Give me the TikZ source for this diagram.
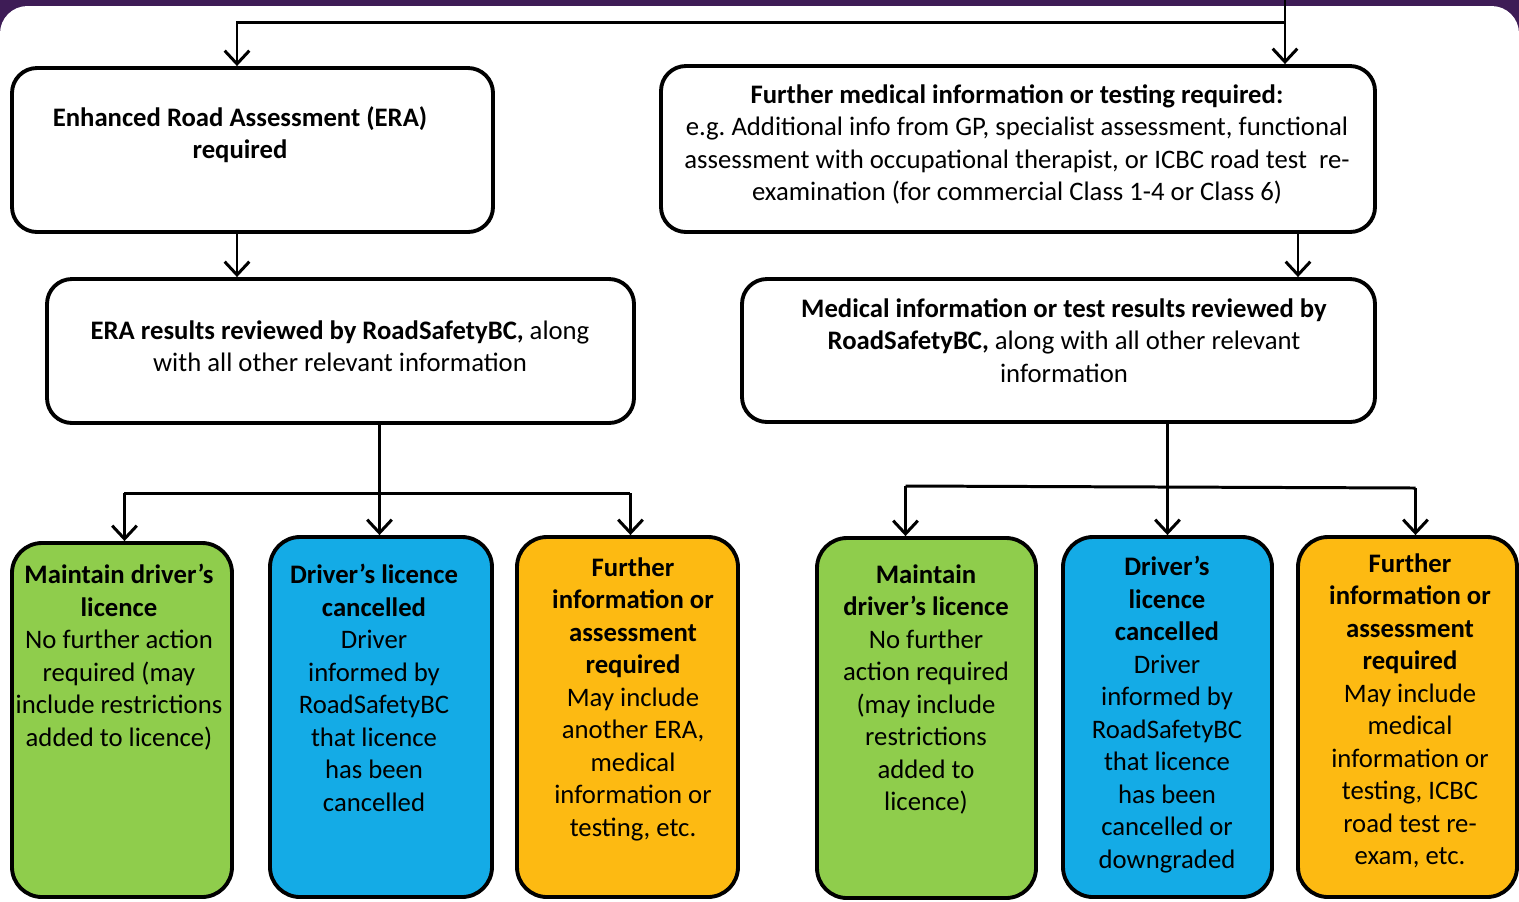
\documentclass[tikz,border=0pt]{standalone}
\usepackage{fontspec}
\setmainfont{Carlito}
\usepackage{tikz}
\usetikzlibrary{arrows.meta}
\definecolor{cardpurple}{HTML}{3E1C56}
\definecolor{keepgreen}{HTML}{8FCD4C}
\definecolor{cancelblue}{HTML}{14ABE6}
\definecolor{moreorange}{HTML}{FDBA12}
\begin{document}
\begin{tikzpicture}[scale=0.2]
              \tikzstyle{every node}+=[inner sep=0pt]
              \tikzstyle{box}=[draw=black, line width=2.2pt, rounded corners=0.5cm, rectangle]
              \tikzstyle{leaf}=[box, rounded corners=0.6cm, minimum height=7.2cm]
              \tikzstyle{txt}=[anchor=north, align=center, font=\fontsize{15.2}{18.5}\selectfont]
              \tikzstyle{arr}=[line width=1.7pt, -{Straight Barb[length=7.5pt,width=14pt]}]
              \clip (0,0) rectangle (151.9,-90.1);
              \fill [cardpurple] (0,0) rectangle (151.9,-90.1);
              \fill [white, rounded corners=0.55cm] (0,-0.6) rectangle (151.9,-96);
              % top row
              \node [box, minimum width=9.62cm, minimum height=3.28cm] (era) at (25.25,-15.0) {};
              \node [box, minimum width=14.28cm, minimum height=3.32cm] (further) at (101.8,-14.9) {};
              \node [txt] (eratxt) at (24.0,-10.6) {\textbf{Enhanced Road Assessment (ERA)}\\\textbf{required}};
              \node [txt] (furthertxt) at (101.7,-8.4) {\textbf{Further medical information or testing required:}\\e.g.\ Additional info from GP, specialist assessment, functional\\assessment with occupational therapist, or ICBC road test\ \ re-\\examination (for commercial Class 1-4 or Class 6)};
              % review row
              \node [box, minimum width=11.74cm, minimum height=2.88cm] (erares) at (34.05,-35.1) {};
              \node [box, minimum width=12.66cm, minimum height=2.86cm] (med) at (105.85,-35.05) {};
              \node [txt] (errestxt) at (34.0,-32.0) {\textbf{ERA results reviewed by RoadSafetyBC,} along\\with all other relevant information};
              \node [txt] (medtxt) at (106.4,-29.8) {\textbf{Medical information or test results reviewed by}\\\textbf{RoadSafetyBC,} along with all other relevant\\information};
              % outcomes
              \node [leaf, fill=keepgreen, minimum width=4.4cm, minimum height=7.08cm] (keepa) at (12.2,-72.0) {};
              \node [leaf, fill=cancelblue, minimum width=4.44cm] (cancela) at (38.1,-71.7) {};
              \node [leaf, fill=moreorange, minimum width=4.42cm] (morea) at (62.75,-71.7) {};
              \node [leaf, fill=keepgreen, minimum width=4.38cm] (keepb) at (92.65,-71.8) {};
              \node [leaf, fill=cancelblue, minimum width=4.18cm] (cancelb) at (116.75,-71.7) {};
              \node [leaf, fill=moreorange, minimum width=4.38cm] (moreb) at (140.75,-71.7) {};
              \node [txt] (keepatxt) at (11.9,-56.4) {\textbf{Maintain driver’s}\\\textbf{licence}\\No further action\\required (may\\include restrictions\\added to licence)};
              \node [txt] (cancelatxt) at (37.4,-56.4) {\textbf{Driver’s licence}\\\textbf{cancelled}\\Driver\\informed by\\RoadSafetyBC\\that licence\\has been\\cancelled};
              \node [txt] (moreatxt) at (63.3,-55.7) {\textbf{Further}\\\textbf{information or}\\\textbf{assessment}\\\textbf{required}\\May include\\another ERA,\\medical\\information or\\testing, etc.};
              \node [txt] (keepbtxt) at (92.6,-56.4) {\textbf{Maintain}\\\textbf{driver’s licence}\\No further\\action required\\(may include\\restrictions\\added to\\licence)};
              \node [txt] (cancelbtxt) at (116.7,-55.6) {\textbf{Driver’s}\\\textbf{licence}\\\textbf{cancelled}\\Driver\\informed by\\RoadSafetyBC\\that licence\\has been\\cancelled or\\downgraded};
              \node [txt] (morebtxt) at (141.0,-55.3) {\textbf{Further}\\\textbf{information or}\\\textbf{assessment}\\\textbf{required}\\May include\\medical\\information or\\testing, ICBC\\road test re-\\exam, etc.};
              % connectors
              \coordinate (entry) at (128.5,0);
              \coordinate (split) at (128.5,-2.2);
              \draw [arr] (entry) -- (entry |- further.north);
              \draw [arr] (split) -| ([xshift=-1.55cm]era.north);
              \draw [arr] ([xshift=-1.55cm]era.south) -- ([xshift=-1.55cm]era.south |- erares.north);
              \draw [arr] ([xshift=28cm]further.south) -- ([xshift=28cm]further.south |- med.north);
              \draw [arr] ([xshift=-0.15cm]cancela.north |- erares.south) -- ([xshift=-0.15cm]cancela.north);
              \draw [line width=1.7pt] ([xshift=0.25cm]keepa.north |- 0,-49.3) -- ([xshift=0.3cm]morea.north |- 0,-49.3);
              \draw [arr] ([xshift=0.25cm]keepa.north |- 0,-49.3) -- ([xshift=0.25cm]keepa.north);
              \draw [arr] ([xshift=0.3cm]morea.north |- 0,-49.3) -- ([xshift=0.3cm]morea.north);
              \draw [arr] (cancelb.north |- med.south) -- (cancelb.north);
              \draw [line width=1.7pt] ([xshift=-2.1cm]keepb.north |- 0,-48.6) -- ([xshift=0.8cm]moreb.north |- 0,-48.8);
              \draw [arr] ([xshift=-2.1cm]keepb.north |- 0,-48.6) -- ([xshift=-2.1cm]keepb.north);
              \draw [arr] ([xshift=0.8cm]moreb.north |- 0,-48.8) -- ([xshift=0.8cm]moreb.north);
\end{tikzpicture}
\end{document}
